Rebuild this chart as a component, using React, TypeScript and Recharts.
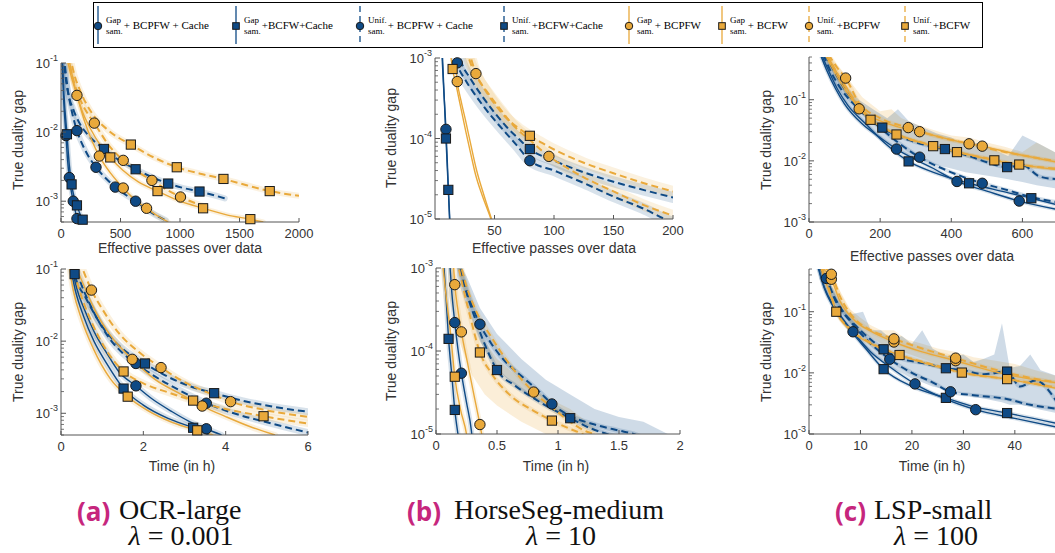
import React from 'react'
import { Area, ComposedChart, Line, XAxis, YAxis } from 'recharts'

const BLUE = '#0f4a85'
const ORANGE = '#e9a93b'
const AXIS = '#555555'
const INK = '#333333'
const SANS = '"Liberation Sans", Arial, sans-serif'
const SERIF = '"Liberation Serif", "DejaVu Serif", serif'

// [x, y, marker?]  -- points flagged with 1 carry a marker
type Pt = [number, number, number?]
// [x, low, high]
type Band = [number, number, number]

// ---------- (a) OCR-large, effective passes ----------
const ocrPass_gapPfwC: Pt[] = [[8, 0.13], [20, 0.035], [42, 8.9e-3, 1], [55, 4e-3], [70, 2.2e-3, 1], [85, 1.45e-3], [103, 1e-3, 1], [120, 7.2e-4], [134, 5.6e-4, 1], [150, 4.5e-4]]
const ocrPass_gapFwC: Pt[] = [[10, 0.13], [25, 0.035], [50, 9.3e-3, 1], [70, 3.3e-3], [89, 1.75e-3, 1], [110, 1.15e-3], [134, 8.7e-4, 1], [160, 6.5e-4], [182, 5.4e-4, 1], [200, 4.6e-4]]
const ocrPass_unifPfwC: Pt[] = [[20, 0.13], [40, 0.06], [70, 0.03], [100, 0.017], [134, 0.0105, 1], [200, 5.6e-3], [294, 3.1e-3, 1], [370, 2.2e-3], [456, 1.6e-3, 1], [540, 1.25e-3], [627, 1e-3, 1], [750, 7e-4], [880, 5.3e-4]]
const ocrPass_unifFwC: Pt[] = [[25, 0.13], [45, 0.06], [61, 0.037], [100, 0.022], [150, 0.014], [229, 9e-3], [361, 5.7e-3, 1], [480, 4e-3], [627, 2.9e-3, 1], [760, 2.25e-3], [901, 1.8e-3, 1], [1030, 1.55e-3], [1164, 1.38e-3, 1], [1376, 1.1e-3]]
const ocrPass_gapPfw: Pt[] = [[45, 0.13], [80, 0.07], [134, 0.034, 1], [200, 0.014], [260, 7.5e-3], [322, 4.5e-3, 1], [420, 2.5e-3], [523, 1.55e-3, 1], [620, 1.05e-3], [719, 7.9e-4, 1], [820, 6e-4], [900, 5e-4]]
const ocrPass_gapFw: Pt[] = [[60, 0.13], [110, 0.05], [170, 0.022], [250, 0.011], [330, 6.5e-3], [414, 4.3e-3, 1], [520, 2.8e-3], [650, 1.9e-3], [811, 1.4e-3, 1], [1000, 1e-3], [1194, 7.9e-4, 1], [1400, 6.3e-4], [1591, 5.5e-4, 1], [1700, 5e-4]]
const ocrPass_unifPfw: Pt[] = [[55, 0.13], [100, 0.06], [160, 0.03], [220, 0.019], [280, 0.0135, 1], [400, 6.5e-3], [523, 3.9e-3, 1], [640, 2.7e-3], [764, 2e-3, 1], [880, 1.5e-3], [1004, 1.15e-3, 1], [1120, 9.5e-4], [1220, 8.3e-4]]
const ocrPass_unifFw: Pt[] = [[75, 0.13], [110, 0.07], [160, 0.04], [250, 0.02], [400, 0.0105], [587, 6.6e-3, 1], [780, 4.3e-3], [973, 3.1e-3, 1], [1170, 2.5e-3], [1365, 2.1e-3, 1], [1560, 1.7e-3], [1754, 1.4e-3, 1], [2000, 1.2e-3]]

// ---------- (a) OCR-large, time ----------
const ocrTime_gapPfwC: Pt[] = [[0.22, 0.13], [0.4, 0.05], [0.6, 0.025], [0.85, 0.012], [1.1, 7e-3], [1.4, 3.8e-3], [1.82, 2.4e-3, 1], [2.2, 1.6e-3], [2.7, 1.05e-3], [3.1, 7.8e-4], [3.53, 6.1e-4, 1], [3.9, 5e-4]]
const ocrTime_gapFwC: Pt[] = [[0.2, 0.13], [0.35, 0.05], [0.55, 0.022], [0.8, 0.01], [1.1, 5e-3], [1.52, 2.2e-3, 1], [2, 1.3e-3], [2.6, 8.5e-4], [3.21, 6.3e-4, 1], [3.6, 5e-4]]
const ocrTime_unifPfwC: Pt[] = [[0.3, 0.13], [0.5, 0.06], [0.8, 0.025], [1.2, 0.0105], [1.5, 6.8e-3], [1.82, 4.9e-3, 1], [2.3, 3.2e-3], [2.9, 2.05e-3], [3.53, 1.38e-3, 1], [4.2, 1e-3], [5, 7.5e-4], [6, 5.4e-4]]
const ocrTime_unifFwC: Pt[] = [[0.3, 0.11], [0.33, 0.085, 1], [0.6, 0.04], [1, 0.016], [1.5, 7.8e-3], [2.04, 4.9e-3, 1], [2.6, 3.2e-3], [3.2, 2.3e-3], [3.72, 1.9e-3, 1], [4.4, 1.5e-3], [5.2, 1.22e-3], [6, 1.05e-3]]
const ocrTime_gapPfw: Pt[] = [[0.3, 0.13], [0.55, 0.06], [0.85, 0.025], [1.2, 0.012], [1.73, 5.6e-3, 1], [2.3, 2.9e-3], [2.9, 1.85e-3], [3.43, 1.26e-3, 1], [4, 9e-4], [4.6, 6.5e-4], [5.2, 5e-4]]
const ocrTime_gapFw: Pt[] = [[0.18, 0.13], [0.3, 0.05], [0.5, 0.02], [0.78, 8e-3], [1.2, 3e-3], [1.62, 1.7e-3, 1], [2.1, 1.1e-3], [2.7, 7.5e-4], [3.31, 5.8e-4, 1], [3.7, 5e-4]]
const ocrTime_unifPfw: Pt[] = [[0.45, 0.13], [0.74, 0.051, 1], [1, 0.028], [1.4, 0.013], [1.9, 7e-3], [2.43, 4.3e-3, 1], [3, 2.7e-3], [3.6, 1.9e-3], [4.12, 1.45e-3, 1], [5, 1.1e-3], [6, 8.9e-4]]
const ocrTime_unifFw: Pt[] = [[0.25, 0.13], [0.45, 0.05], [0.75, 0.018], [1.1, 7.5e-3], [1.52, 3.8e-3, 1], [2, 2.6e-3], [2.6, 1.95e-3], [3.21, 1.5e-3, 1], [4, 1.15e-3], [4.92, 9.1e-4, 1], [6, 7.2e-4]]

// ---------- (b) HorseSeg-medium, effective passes ----------
const horsePass_gapPfwC: Pt[] = [[5, 2e-3], [7, 5e-4], [9.2, 1.3e-4, 1], [10.5, 4.5e-5], [12, 1.2e-5], [12.3, 9e-6]]
const horsePass_gapFwC: Pt[] = [[5.5, 2e-3], [7.2, 5e-4], [9.2, 1e-4, 1], [11.2, 2.3e-5, 1], [12.6, 9e-6]]
const horsePass_unifPfwC: Pt[] = [[17, 1.3e-3], [18.7, 8.7e-4, 1], [25, 5.5e-4], [32, 3.8e-4], [40, 2.6e-4], [50, 1.7e-4], [60, 1.15e-4], [70, 7.8e-5], [79.7, 5.3e-5, 1], [100, 4e-5], [125, 2.8e-5], [150, 1.9e-5], [175, 1.35e-5], [193, 1e-5], [200, 9e-6]]
const horsePass_unifFwC: Pt[] = [[19, 1.3e-3], [22, 9e-4], [30, 5.5e-4], [40, 3.3e-4], [50, 2.1e-4], [60, 1.4e-4], [70, 1e-4], [79.7, 7.4e-5, 1], [100, 5.3e-5], [125, 3.8e-5], [150, 2.9e-5], [175, 2.3e-5], [200, 1.85e-5]]
const horsePass_gapPfw: Pt[] = [[16, 1.3e-3], [18.7, 5.1e-4, 1], [22, 2.9e-4], [26, 1.6e-4], [30, 8.5e-5], [35, 4e-5], [41, 2e-5], [47.5, 1e-5], [48.5, 9e-6]]
const horsePass_gapFw: Pt[] = [[12.5, 1.3e-3], [14.8, 7.3e-4, 1], [18, 4.4e-4], [22, 2.3e-4], [26, 1.2e-4], [30, 6.5e-5], [34, 3.6e-5], [40, 1.9e-5], [47, 1e-5], [48, 9e-6]]
const horsePass_unifPfw: Pt[] = [[28, 1.3e-3], [34.4, 6.4e-4, 1], [45, 3.6e-4], [55, 2.3e-4], [65, 1.5e-4], [80, 9.5e-5], [95.7, 6e-5, 1], [110, 4.4e-5], [125, 3.3e-5], [150, 2.2e-5], [175, 1.5e-5], [200, 1.1e-5]]
const horsePass_unifFw: Pt[] = [[26, 1.3e-3], [30, 8.5e-4], [40, 4.5e-4], [50, 2.7e-4], [60, 1.8e-4], [70, 1.35e-4], [79.7, 1.08e-4, 1], [90, 8.8e-5], [100, 7.3e-5], [125, 5e-5], [150, 3.7e-5], [175, 2.8e-5], [200, 2.2e-5]]

// ---------- (b) HorseSeg-medium, time ----------
const horseTime_gapPfwC: Pt[] = [[0.11, 1.3e-3], [0.13, 5e-4], [0.154, 2.2e-4, 1], [0.18, 1.05e-4], [0.208, 5.4e-5, 1], [0.25, 2.4e-5], [0.29, 1.1e-5], [0.3, 8e-6]]
const horseTime_gapFwC: Pt[] = [[0.06, 1.3e-3], [0.08, 5e-4], [0.103, 1.4e-4, 1], [0.13, 5e-5], [0.154, 1.95e-5, 1], [0.18, 1e-5], [0.19, 8e-6]]
const horseTime_unifPfwC: Pt[] = [[0.18, 1.3e-3], [0.25, 5.5e-4], [0.36, 2.1e-4, 1], [0.45, 1.25e-4], [0.55, 8e-5], [0.7, 5e-5], [0.85, 3.2e-5], [0.95, 2.3e-5, 1], [1.1, 1.65e-5], [1.3, 1.3e-5], [1.5, 1.1e-5], [1.62, 1e-5], [1.7, 9e-6]]
const horseTime_unifFwC: Pt[] = [[0.17, 1.3e-3], [0.22, 7e-4], [0.3, 3e-4], [0.4, 1.2e-4], [0.5, 5.9e-5, 1], [0.65, 3.8e-5], [0.8, 2.7e-5], [0.95, 2e-5], [1.1, 1.55e-5, 1], [1.25, 1.2e-5], [1.4, 1e-5], [1.5, 9e-6]]
const horseTime_gapPfw: Pt[] = [[0.14, 1.3e-3], [0.154, 6.3e-4, 1], [0.18, 3.1e-4], [0.208, 1.7e-4, 1], [0.26, 7e-5], [0.31, 3e-5], [0.36, 1.3e-5, 1], [0.38, 9e-6]]
const horseTime_gapFw: Pt[] = [[0.05, 1.3e-3], [0.08, 5e-4], [0.12, 1.6e-4], [0.154, 4.9e-5, 1], [0.2, 2e-5], [0.25, 1e-5], [0.26, 8e-6]]
const horseTime_unifPfw: Pt[] = [[0.19, 1.3e-3], [0.25, 6e-4], [0.33, 3e-4], [0.45, 1.5e-4], [0.6, 7e-5], [0.8, 3.2e-5, 1], [0.95, 2.1e-5], [1.1, 1.4e-5], [1.25, 1.05e-5], [1.3, 1e-5], [1.35, 9e-6]]
const horseTime_unifFw: Pt[] = [[0.17, 1.3e-3], [0.22, 6e-4], [0.28, 2.6e-4], [0.36, 9.6e-5, 1], [0.45, 5.5e-5], [0.6, 3e-5], [0.8, 1.9e-5], [0.95, 1.45e-5, 1], [1.1, 1.15e-5], [1.2, 1e-5], [1.25, 9e-6]]
const horseTimeBlueBand: Band[] = [[0.17, 8e-4, 1.3e-3], [0.25, 3.5e-4, 8e-4], [0.36, 1.3e-4, 3.3e-4], [0.5, 6e-5, 1.6e-4], [0.7, 3.3e-5, 8e-5], [0.9, 2.2e-5, 4.5e-5], [1.1, 1.5e-5, 3e-5], [1.3, 1.1e-5, 2e-5], [1.5, 9e-6, 1.6e-5], [1.7, 8e-6, 1.4e-5], [1.9, 8e-6, 1e-5]]
const horseTimeOrangeBand: Band[] = [[0.1, 5e-4, 1.3e-3], [0.2, 1.2e-4, 6e-4], [0.3, 5e-5, 2.5e-4], [0.4, 3e-5, 1.3e-4], [0.5, 2.2e-5, 8e-5], [0.7, 1.4e-5, 4.5e-5], [0.9, 1e-5, 2.8e-5], [1.1, 8e-6, 2e-5], [1.3, 8e-6, 1.2e-5]]

// ---------- (c) LSP-small, effective passes ----------
const lspPass_gapPfwC: Pt[] = [[32, 0.55], [50, 0.3], [75, 0.15], [100, 0.085], [150, 0.04], [200, 0.024], [246, 0.0156, 1], [300, 0.0105], [350, 7.5e-3], [416, 4.6e-3, 1], [500, 3.2e-3], [591, 2.2e-3, 1], [700, 1.6e-3]]
const lspPass_gapFwC: Pt[] = [[35, 0.55], [55, 0.3], [80, 0.15], [110, 0.08], [160, 0.04], [220, 0.018], [280, 9.8e-3, 1], [350, 6.5e-3], [450, 4.3e-3, 1], [540, 3.2e-3], [625, 2.45e-3, 1], [700, 1.9e-3]]
const lspPass_unifPfwC: Pt[] = [[40, 0.55], [60, 0.3], [90, 0.15], [130, 0.08], [200, 0.035], [250, 0.02], [311, 0.0115, 1], [400, 6.5e-3], [487, 4.3e-3, 1], [560, 3.3e-3], [620, 2.6e-3], [700, 2.1e-3]]
const lspPass_unifFwC: Pt[] = [[45, 0.55], [70, 0.3], [100, 0.15], [140, 0.075], [206, 0.035, 1], [280, 0.022], [330, 0.018], [382, 0.0156, 1], [450, 0.012], [500, 9.5e-3], [557, 7.9e-3, 1], [600, 8.5e-3], [650, 5.5e-3], [700, 5e-3]]
const lspPass_gapPfw: Pt[] = [[50, 0.55], [75, 0.3], [100, 0.18], [141, 0.071, 1], [200, 0.045], [250, 0.036], [311, 0.03, 1], [400, 0.022], [487, 0.0174, 1], [580, 0.013], [700, 9.5e-3]]
const lspPass_gapFw: Pt[] = [[45, 0.55], [70, 0.3], [100, 0.15], [173, 0.047, 1], [250, 0.027], [349, 0.0174, 1], [430, 0.0135], [521, 0.0102, 1], [600, 8.5e-3], [700, 7.2e-3]]
const lspPass_unifPfw: Pt[] = [[55, 0.55], [80, 0.33], [103, 0.226, 1], [140, 0.09], [200, 0.05], [279, 0.035, 1], [350, 0.026], [450, 0.019, 1], [550, 0.014], [700, 9.8e-3]]
const lspPass_unifFw: Pt[] = [[50, 0.55], [75, 0.3], [110, 0.14], [173, 0.05], [246, 0.027, 1], [330, 0.019], [416, 0.0139, 1], [500, 0.011], [591, 8.7e-3, 1], [700, 7.4e-3]]
const lspPassBlueBand: Band[] = [[40, 0.4, 0.6], [70, 0.2, 0.35], [100, 0.1, 0.18], [140, 0.05, 0.1], [180, 0.03, 0.07], [220, 0.02, 0.05], [250, 0.016, 0.07], [280, 0.012, 0.045], [320, 0.01, 0.035], [360, 8.5e-3, 0.028], [400, 7.5e-3, 0.024], [440, 6.5e-3, 0.018], [480, 6e-3, 0.02], [520, 5.5e-3, 0.015], [560, 5e-3, 0.012], [600, 4.5e-3, 0.026], [640, 4e-3, 0.02], [700, 3.5e-3, 0.013]]
const lspPassOrangeBand: Band[] = [[50, 0.4, 0.6], [100, 0.13, 0.26], [150, 0.06, 0.11], [200, 0.035, 0.065], [232, 0.028, 0.07], [260, 0.024, 0.05], [300, 0.02, 0.04], [350, 0.016, 0.032], [400, 0.013, 0.026], [450, 0.011, 0.024], [500, 9.5e-3, 0.02], [550, 8.5e-3, 0.017], [600, 7.8e-3, 0.014], [640, 7.4e-3, 0.02], [700, 6.8e-3, 0.013]]

// ---------- (c) LSP-small, time ----------
const lspTime_gapPfwC: Pt[] = [[1.8, 0.55], [3, 0.25], [5, 0.12], [8.55, 0.047, 1], [12, 0.022], [16, 0.012], [20.6, 6.6e-3, 1], [26, 3.9e-3], [32.4, 2.5e-3, 1], [40, 1.8e-3], [48, 1.3e-3]]
const lspTime_gapFwC: Pt[] = [[1.7, 0.55], [3, 0.24], [5, 0.11], [8, 0.05], [11, 0.025], [14.5, 0.0115, 1], [20, 6e-3], [26.6, 3.9e-3, 1], [32, 2.8e-3], [38.5, 2.2e-3, 1], [48, 1.5e-3]]
const lspTime_unifPfwC: Pt[] = [[2, 0.55], [3.37, 0.35, 1], [5, 0.16], [8, 0.07], [12, 0.03], [15.7, 0.0167, 1], [20, 0.01], [24, 7e-3], [27.5, 4.9e-3, 1], [32, 4.3e-3], [38, 3.8e-3], [43, 3e-3], [48, 2.6e-3]]
const lspTime_unifFwC: Pt[] = [[2.2, 0.55], [4, 0.25], [6, 0.12], [9, 0.06], [12, 0.035], [14.5, 0.0243, 1], [18, 0.017], [22, 0.0145], [26.6, 0.0119, 1], [30, 0.011], [34, 9.5e-3], [38.5, 0.0105, 1], [41, 6e-3], [44, 7.5e-3], [48, 3.5e-3]]
const lspTime_gapPfw: Pt[] = [[2.3, 0.55], [4.34, 0.34, 1], [6, 0.15], [9, 0.07], [12, 0.048], [16.5, 0.032, 1], [22, 0.022], [28.5, 0.0158, 1], [35, 0.011], [41, 8.5e-3], [48, 6.9e-3]]
const lspTime_gapFw: Pt[] = [[2.2, 0.55], [4, 0.2], [5.3, 0.1, 1], [8, 0.05], [12, 0.03], [17.6, 0.0196, 1], [23, 0.014], [29.7, 0.0101, 1], [38.5, 7.9e-3], [48, 5.6e-3]]
const lspTime_unifPfw: Pt[] = [[2.5, 0.55], [4.34, 0.41, 1], [6, 0.18], [9, 0.075], [12, 0.05], [16.5, 0.036, 1], [22, 0.025], [28.5, 0.0174, 1], [35, 0.012], [41, 9e-3], [48, 7e-3]]
const lspTime_unifFw: Pt[] = [[2.4, 0.55], [4, 0.22], [5.4, 0.1], [8, 0.052], [12, 0.031], [17.6, 0.0196], [23, 0.0145], [29.7, 0.0101], [38.5, 7.9e-3, 1], [48, 5.8e-3]]
const lspTimeBlueBand: Band[] = [[2, 0.35, 0.6], [4, 0.15, 0.3], [6, 0.08, 0.16], [8, 0.045, 0.09], [10.5, 0.03, 0.1], [12, 0.022, 0.05], [14, 0.016, 0.05], [16, 0.012, 0.035], [18, 0.01, 0.04], [20, 8e-3, 0.03], [22, 7e-3, 0.05], [24, 6e-3, 0.025], [26, 5.5e-3, 0.02], [28, 5e-3, 0.018], [30, 4.5e-3, 0.02], [32, 4e-3, 0.015], [34, 3.8e-3, 0.017], [36, 3.5e-3, 0.02], [37.5, 3.3e-3, 0.065], [39, 3e-3, 0.012], [41, 3e-3, 0.013], [43, 2.8e-3, 0.02], [45, 2.5e-3, 0.011], [48, 2.2e-3, 9e-3]]
const lspTimeOrangeBand: Band[] = [[2, 0.4, 0.6], [4, 0.25, 0.45], [6, 0.12, 0.22], [8, 0.065, 0.11], [10, 0.048, 0.08], [12, 0.038, 0.06], [14, 0.03, 0.05], [16.5, 0.025, 0.05], [19, 0.021, 0.035], [22, 0.017, 0.03], [25, 0.014, 0.025], [28.5, 0.012, 0.022], [32, 0.01, 0.018], [36, 9e-3, 0.016], [40, 8e-3, 0.014], [44, 6.5e-3, 0.011], [48, 5.5e-3, 9e-3]]

// ---------- legend text ----------
const legendTop = ['Gap', 'Gap', 'Unif.', 'Unif.', 'Gap', 'Gap', 'Unif.', 'Unif.']
const legendTail = ['+ BCPFW + Cache', '+BCFW+Cache', '+ BCPFW + Cache', '+BCFW+Cache', '+ BCPFW', '+ BCFW', '+BCPFW', '+BCFW']

type Style = { color: string; dashed: boolean; shape: 'circle' | 'square' }
const SERIES: Style[] = [
  { color: BLUE, dashed: false, shape: 'circle' },
  { color: BLUE, dashed: false, shape: 'square' },
  { color: BLUE, dashed: true, shape: 'circle' },
  { color: BLUE, dashed: true, shape: 'square' },
  { color: ORANGE, dashed: false, shape: 'circle' },
  { color: ORANGE, dashed: false, shape: 'square' },
  { color: ORANGE, dashed: true, shape: 'circle' },
  { color: ORANGE, dashed: true, shape: 'square' },
]
const LEGEND_X = [97, 235, 359, 503, 628, 721, 808, 904]

function logTicks([lo, hi]: [number, number]) {
  const out: number[] = []
  for (let e = Math.floor(Math.log10(lo)); e <= Math.ceil(Math.log10(hi)); e++) {
    for (let m = 1; m < 10; m++) {
      const v = m * Math.pow(10, e)
      if (v >= lo * 0.999 && v <= hi * 1.001) out.push(v)
    }
  }
  return out
}

function Marker({ cx, cy, s, size = 1 }: { cx: number; cy: number; s: Style; size?: number }) {
  if (s.shape === 'circle')
    return <circle cx={cx} cy={cy} r={5.2 * size} fill={s.color} stroke="#1a1a1a" strokeWidth={1} />
  const h = 4.6 * size
  return <rect x={cx - h} y={cy - h} width={2 * h} height={2 * h} fill={s.color} stroke="#1a1a1a" strokeWidth={1} />
}

function XTick(props: any) {
  const { x, y, payload } = props
  return (
    <g>
      <line x1={x} y1={y} x2={x} y2={y - 4} stroke={AXIS} />
      <text x={x} y={y + 16} textAnchor="middle" fontFamily={SANS} fontSize={13} fill={INK}>
        {payload.value}
      </text>
    </g>
  )
}

function YTick(props: any) {
  const { x, y, payload } = props
  const e = Math.log10(payload.value)
  const k = Math.round(e)
  if (Math.abs(e - k) > 1e-6) return <line x1={x} y1={y} x2={x + 3} y2={y} stroke={AXIS} strokeWidth={0.8} />
  return (
    <g>
      <line x1={x} y1={y} x2={x + 5} y2={y} stroke={AXIS} />
      <text x={x - 3} y={y + 5} textAnchor="end" fontFamily={SANS} fontSize={13} fill={INK}>
        10<tspan dy={-7} fontSize={9}>{k}</tspan>
      </text>
    </g>
  )
}

type PanelDef = {
  rect: [number, number, number, number]
  xDomain: [number, number]
  xTicks: number[]
  yDomain: [number, number]
  series: Pt[][]
  halo: number
  haloSolid: number
  bands?: { data: Band[]; color: string }[]
}

function Panel({ def }: { def: PanelDef }) {
  const [x0, y0, x1, y1] = def.rect
  const ML = 60, MT = 18, MR = 22, MB = 30
  const xy = (pts: Pt[]) => pts.map(([x, y]) => ({ x, y }))
  return (
    <div style={{ position: 'absolute', left: x0 - ML, top: y0 - MT }}>
      <ComposedChart width={x1 - x0 + ML + MR} height={y1 - y0 + MT + MB} margin={{ top: MT, right: MR, left: 0, bottom: 0 }}>
        <XAxis type="number" dataKey="x" domain={def.xDomain} ticks={def.xTicks} allowDataOverflow interval={0}
          height={MB} tickSize={0} tickMargin={0} tickLine={false} axisLine={{ stroke: AXIS }} tick={(p: any) => <XTick {...p} />} />
        <YAxis type="number" scale="log" domain={def.yDomain} ticks={logTicks(def.yDomain)} allowDataOverflow interval={0}
          width={ML} tickSize={0} tickMargin={0} tickLine={false} axisLine={{ stroke: AXIS }} tick={(p: any) => <YTick {...p} />} />
        <XAxis xAxisId="m" type="number" dataKey="x" domain={def.xDomain} hide />
        <YAxis yAxisId="m" type="number" scale="log" domain={def.yDomain} hide />
        {(def.bands || []).map((b, i) => (
          <Area key={'b' + i} data={b.data.map(([x, lo, hi]) => ({ x, r: [lo, hi] }))} dataKey="r" type="linear"
            stroke="none" fill={b.color} fillOpacity={0.2} dot={false} activeDot={false} isAnimationActive={false} />
        ))}
        {def.series.map((pts, i) => {
          const w = SERIES[i].dashed ? def.halo : def.haloSolid
          if (!w) return null
          return (
            <Line key={'h' + i} data={xy(pts)} dataKey="y" type="monotone" stroke={SERIES[i].color} strokeOpacity={0.16}
              strokeWidth={w} strokeLinecap="round" dot={false} activeDot={false} isAnimationActive={false} />
          )
        })}
        {def.series.map((pts, i) => (
          <Line key={'l' + i} data={xy(pts)} dataKey="y" type="monotone" stroke={SERIES[i].color}
            strokeWidth={SERIES[i].dashed ? 2 : 1.4} strokeDasharray={SERIES[i].dashed ? '7 4' : undefined}
            dot={false} activeDot={false} isAnimationActive={false} />
        ))}
        {def.series.map((pts, i) => (
          <Line key={'m' + i} xAxisId="m" yAxisId="m" data={xy(pts.filter((p) => p[2]))} dataKey="y" stroke="none"
            dot={(p: any) => <Marker key={'d' + p.index} cx={p.cx} cy={p.cy} s={SERIES[i]} />}
            activeDot={false} isAnimationActive={false} />
        ))}
      </ComposedChart>
    </div>
  )
}

const panels: PanelDef[] = [
  {
    rect: [61, 63, 299, 222], xDomain: [0, 2000], xTicks: [0, 500, 1000, 1500, 2000], yDomain: [5e-4, 0.1], halo: 6, haloSolid: 5,
    series: [ocrPass_gapPfwC, ocrPass_gapFwC, ocrPass_unifPfwC, ocrPass_unifFwC, ocrPass_gapPfw, ocrPass_gapFw, ocrPass_unifPfw, ocrPass_unifFw],
  },
  {
    rect: [61, 269, 308, 435], xDomain: [0, 6], xTicks: [0, 2, 4, 6], yDomain: [5e-4, 0.1], halo: 7, haloSolid: 6,
    series: [ocrTime_gapPfwC, ocrTime_gapFwC, ocrTime_unifPfwC, ocrTime_unifFwC, ocrTime_gapPfw, ocrTime_gapFw, ocrTime_unifPfw, ocrTime_unifFw],
  },
  {
    rect: [435, 58, 673, 219], xDomain: [0, 200], xTicks: [50, 100, 150, 200], yDomain: [1e-5, 1e-3], halo: 11, haloSolid: 0,
    series: [horsePass_gapPfwC, horsePass_gapFwC, horsePass_unifPfwC, horsePass_unifFwC, horsePass_gapPfw, horsePass_gapFw, horsePass_unifPfw, horsePass_unifFw],
  },
  {
    rect: [436, 268, 680, 434], xDomain: [0, 2], xTicks: [0, 0.5, 1, 1.5, 2], yDomain: [1e-5, 1e-3], halo: 5, haloSolid: 5,
    series: [horseTime_gapPfwC, horseTime_gapFwC, horseTime_unifPfwC, horseTime_unifFwC, horseTime_gapPfw, horseTime_gapFw, horseTime_unifPfw, horseTime_unifFw],
    bands: [{ data: horseTimeOrangeBand, color: ORANGE }, { data: horseTimeBlueBand, color: BLUE }],
  },
  {
    rect: [809, 57, 1058, 222], xDomain: [0, 700], xTicks: [0, 200, 400, 600], yDomain: [1e-3, 0.5], halo: 4, haloSolid: 4,
    series: [lspPass_gapPfwC, lspPass_gapFwC, lspPass_unifPfwC, lspPass_unifFwC, lspPass_gapPfw, lspPass_gapFw, lspPass_unifPfw, lspPass_unifFw],
    bands: [{ data: lspPassOrangeBand, color: ORANGE }, { data: lspPassBlueBand, color: BLUE }],
  },
  {
    rect: [809, 269, 1056, 434], xDomain: [0, 48], xTicks: [0, 10, 20, 30, 40], yDomain: [1e-3, 0.5], halo: 4, haloSolid: 4,
    series: [lspTime_gapPfwC, lspTime_gapFwC, lspTime_unifPfwC, lspTime_unifFwC, lspTime_gapPfw, lspTime_gapFw, lspTime_unifPfw, lspTime_unifFw],
    bands: [{ data: lspTimeOrangeBand, color: ORANGE }, { data: lspTimeBlueBand, color: BLUE }],
  },
]

const abs = (x: number, y: number, extra: React.CSSProperties = {}): React.CSSProperties => ({
  position: 'absolute', left: x, top: y, whiteSpace: 'nowrap', ...extra,
})

function YTitle({ x, y }: { x: number; y: number }) {
  return (
    <div style={abs(x, y, { transform: 'translate(-50%, -50%) rotate(-90deg)', fontFamily: SANS, fontSize: 14, color: INK })}>
      True duality gap
    </div>
  )
}

function XTitle({ x, y, text }: { x: number; y: number; text: string }) {
  return (
    <div style={abs(x, y, { transform: 'translate(-50%, -50%)', fontFamily: SANS, fontSize: 14, color: INK })}>{text}</div>
  )
}

function LegendBox() {
  return (
    <div style={abs(93, 2, { width: 890, height: 46, border: '1px solid #000', boxSizing: 'border-box' })}>
      {SERIES.map((s, i) => (
        <div key={i} style={abs(LEGEND_X[i] - 93 - 5, 1, { display: 'flex', alignItems: 'center', height: 42 })}>
          <svg width={10} height={42}>
            <line x1={5} y1={2} x2={5} y2={40} stroke={s.color} strokeWidth={1.3} strokeDasharray={s.dashed ? '6 4' : undefined} />
            <Marker cx={5} cy={22} s={s} size={0.72} />
          </svg>
          <div style={{ fontFamily: SERIF, fontSize: 9, lineHeight: '11px', marginLeft: 3, marginTop: 2 }}>
            <div>{legendTop[i]}</div>
            <div>sam.</div>
          </div>
          <span style={{ fontFamily: SERIF, fontSize: 11, marginLeft: 1 }}>{legendTail[i]}</span>
        </div>
      ))}
    </div>
  )
}

function Caption({ label, name, nameLeft, labelLeft, lambda, center }: { label: string; name: string; nameLeft: number; labelLeft: number; lambda: string; center: number }) {
  return (
    <>
      <div style={abs(labelLeft, 498, { fontFamily: '"Open Sans", sans-serif', fontWeight: 700, fontSize: 26, lineHeight: '26px', color: '#c6267d' })}>
        {label}
      </div>
      <div style={abs(nameLeft, 497, { fontFamily: SERIF, fontSize: 28, lineHeight: '25px', color: '#111' })}>{name}</div>
      <div style={abs(center, 523, { transform: 'translateX(-50%)', fontFamily: SERIF, fontSize: 28, lineHeight: '25px', color: '#111' })}>
        <i>λ</i> = {lambda}
      </div>
    </>
  )
}

export default function App() {
  return (
    <div style={{ position: 'fixed', left: 0, top: 0, width: 1055, height: 553, overflow: 'hidden', background: '#fff' }}>
      <LegendBox />
      {panels.map((p, i) => (
        <Panel key={i} def={p} />
      ))}
      <YTitle x={18} y={140} />
      <YTitle x={18} y={352} />
      <YTitle x={391} y={138} />
      <YTitle x={391} y={351} />
      <YTitle x={766} y={140} />
      <YTitle x={766} y={352} />
      <XTitle x={180} y={248} text="Effective passes over data" />
      <XTitle x={554} y={248} text="Effective passes over data" />
      <XTitle x={932} y={256} text="Effective passes over data" />
      <XTitle x={182} y={466} text="Time (in h)" />
      <XTitle x={556} y={466} text="Time (in h)" />
      <XTitle x={932} y={466} text="Time (in h)" />
      <Caption label="(a)" labelLeft={77} name="OCR-large" nameLeft={119} lambda="0.001" center={181} />
      <Caption label="(b)" labelLeft={407} name="HorseSeg-medium" nameLeft={454} lambda="10" center={561} />
      <Caption label="(c)" labelLeft={835} name="LSP-small" nameLeft={874} lambda="100" center={936} />
    </div>
  )
}
